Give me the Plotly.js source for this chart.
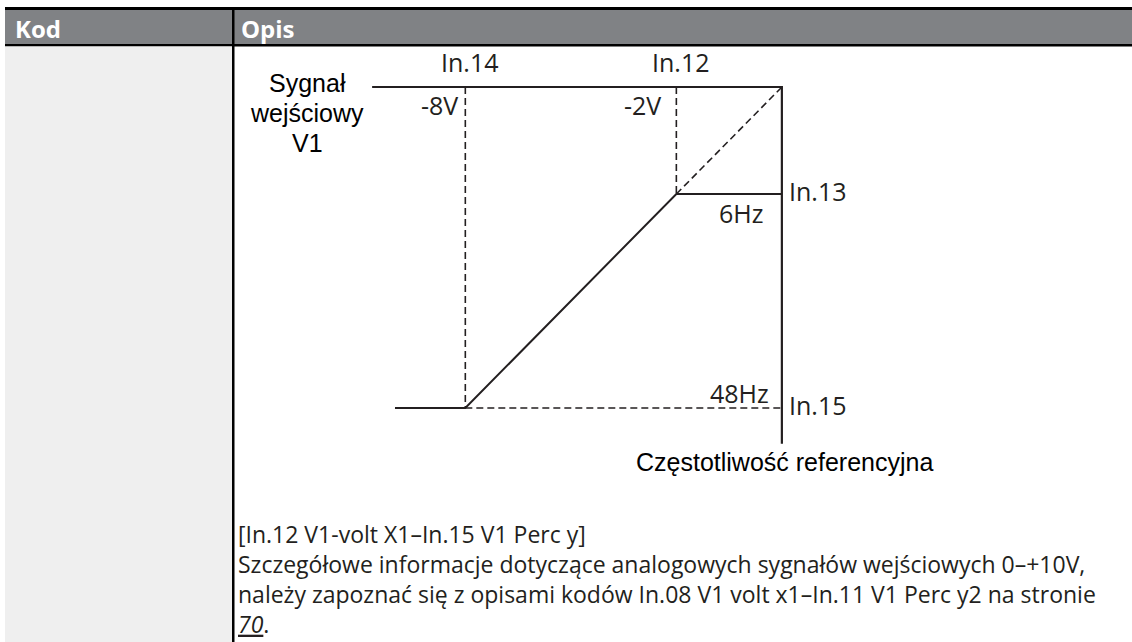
<!DOCTYPE html>
<html><head><meta charset="utf-8">
<script src="https://cdn.plot.ly/plotly-3.0.1.min.js"></script>
<style>html,body{margin:0;padding:0;background:#fff;overflow:hidden}#chart{width:1132px;height:642px}</style>
</head><body><div id="chart"></div>
<script>
// ---- schematic data (input voltage V, output frequency Hz) ----
const curveV = [-10, -8, -2, 1];        // reference curve: flat, ramp, flat
const curveHz = [48, 48, 6, 6];
const signalAxisV = [-10.65, 1, 1];      // input-signal axis (top) and frequency axis (right)
const signalAxisHz = [-15, -15, 55];
const dropV = [-8, -8, null, -2, -2];    // dashed drop lines from In.14 / In.12
const dropHz = [-15, 48, null, -15, 6];
const extV = [-2, 1];                    // dashed extension of the ramp
const extHz = [6, -15];
const minFreqV = [-8, 1];                // dashed 48Hz level
const minFreqHz = [48, 48];

const pointCodes = ['In.14', 'In.12'];
const pointVolts = ['-8V', '-2V'];
const pointV = [-8, -2];
const freqCodes = ['In.13', 'In.15'];
const freqLabels = ['6Hz', '48Hz'];
const freqHz = [6, 48];
const leftTitle = ['Sygnał', 'wejściowy', 'V1'];
const bottomTitle = 'Częstotliwość referencyjna';
const headers = ['Kod', 'Opis'];
const bodyLines = [
  '[In.12 V1-volt X1–In.15 V1 Perc y]',
  'Szczegółowe informacje dotyczące analogowych sygnałów wejściowych 0–+10V,',
  'należy zapoznać się z opisami kodów In.08 V1 volt x1–In.11 V1 Perc y2 na stronie',
  '<u><i>70</i></u>.'
];

// ---- layout helpers ----
const W = 1132, H = 642;
const px = x => x / W, py = y => 1 - y / H;
const INK = '#231f20';
const LBL = 'Open Sans, Noto Sans, sans-serif';
const ARIAL = 'Liberation Sans, Arial, sans-serif';

const traces = [
  {x: signalAxisV, y: signalAxisHz, mode: 'lines', line: {color: INK, width: 2.2}},
  {x: curveV, y: curveHz, mode: 'lines', line: {color: INK, width: 2}},
  {x: dropV, y: dropHz, mode: 'lines', connectgaps: false, line: {color: INK, width: 1.6, dash: '7px,4px'}},
  {x: extV, y: extHz, mode: 'lines', line: {color: INK, width: 1.6, dash: '7px,4px'}},
  {x: minFreqV, y: minFreqHz, mode: 'lines', line: {color: INK, width: 1.6, dash: '7px,4px'}}
];

function ann(text, x, y, o) {
  return Object.assign({text, x, y, xref: 'x', yref: 'y', showarrow: false,
    yanchor: 'middle', font: {family: LBL, size: 25, color: INK}}, o);
}
const annotations = [];
pointCodes.forEach((t, i) => annotations.push(ann(t, pointV[i], signalAxisHz[0], {xanchor: 'center', xshift: 4, yshift: 25})));
annotations.push(ann(pointVolts[0], pointV[0], signalAxisHz[0], {xanchor: 'right', xshift: -5, yshift: -18}));
annotations.push(ann(pointVolts[1], pointV[1], signalAxisHz[0], {xanchor: 'right', xshift: -13, yshift: -18}));
freqCodes.forEach((t, i) => annotations.push(ann(t, signalAxisV[1], freqHz[i], {xanchor: 'left', xshift: 5, yshift: 3})));
annotations.push(ann(freqLabels[0], signalAxisV[1], freqHz[0], {xanchor: 'right', xshift: -17, yshift: -19}));
annotations.push(ann(freqLabels[1], signalAxisV[1], freqHz[1], {xanchor: 'right', xshift: -11, yshift: 15}));
annotations.push(ann(bottomTitle, signalAxisV[1], signalAxisHz[2], {xanchor: 'center', xshift: 3, yshift: -18,
  font: {family: ARIAL, size: 25, color: '#000'}}));
leftTitle.forEach((t, i) => annotations.push(ann(t, signalAxisV[0], signalAxisHz[0], {xanchor: 'center', xshift: -65,
  yshift: 4 - 30 * i, font: {family: ARIAL, size: 25, color: '#000'}})));

// header texts
[13, 239].forEach((x, i) => annotations.push({text: '<b>' + headers[i] + '</b>', xref: 'paper', yref: 'paper',
  x: px(x), y: py(28), xanchor: 'left', yanchor: 'middle', showarrow: false,
  font: {family: LBL, size: 24, color: '#fff'}}));
// body text (one block)
annotations.push({text: bodyLines.join('<br>'), xref: 'paper', yref: 'paper',
  x: px(237), y: py(579), xanchor: 'left', yanchor: 'middle', align: 'left', showarrow: false, borderpad: 0,
  font: {family: LBL, size: 23, color: INK}});

const shapes = [
  {type: 'rect', xref: 'paper', yref: 'paper', x0: px(5), x1: 1, y0: py(44), y1: py(10), fillcolor: '#808285', line: {width: 0}, layer: 'below'},
  {type: 'rect', xref: 'paper', yref: 'paper', x0: px(5), x1: 1, y0: py(10), y1: py(7), fillcolor: '#000', line: {width: 0}, layer: 'below'},
  {type: 'rect', xref: 'paper', yref: 'paper', x0: px(5), x1: 1, y0: py(46.5), y1: py(44), fillcolor: '#000', line: {width: 0}, layer: 'below'},
  {type: 'rect', xref: 'paper', yref: 'paper', x0: px(5), x1: px(232), y0: 0, y1: py(46.5), fillcolor: '#efefef', line: {width: 0}, layer: 'below'},
  {type: 'rect', xref: 'paper', yref: 'paper', x0: px(232), x1: px(234.5), y0: 0, y1: py(10), fillcolor: '#000', line: {width: 0}, layer: 'below'}
];

const layout = {
  width: W, height: H, margin: {l: 0, r: 0, t: 0, b: 0, pad: 0},
  paper_bgcolor: '#fff', plot_bgcolor: 'rgba(0,0,0,0)', showlegend: false,
  xaxis: {range: [-21.23, 10.955], visible: false, fixedrange: true},
  yaxis: {range: [93.93, -32.08], visible: false, fixedrange: true},
  annotations, shapes
};
Plotly.newPlot('chart', traces, layout, {staticPlot: true, displayModeBar: false});
</script></body></html>
